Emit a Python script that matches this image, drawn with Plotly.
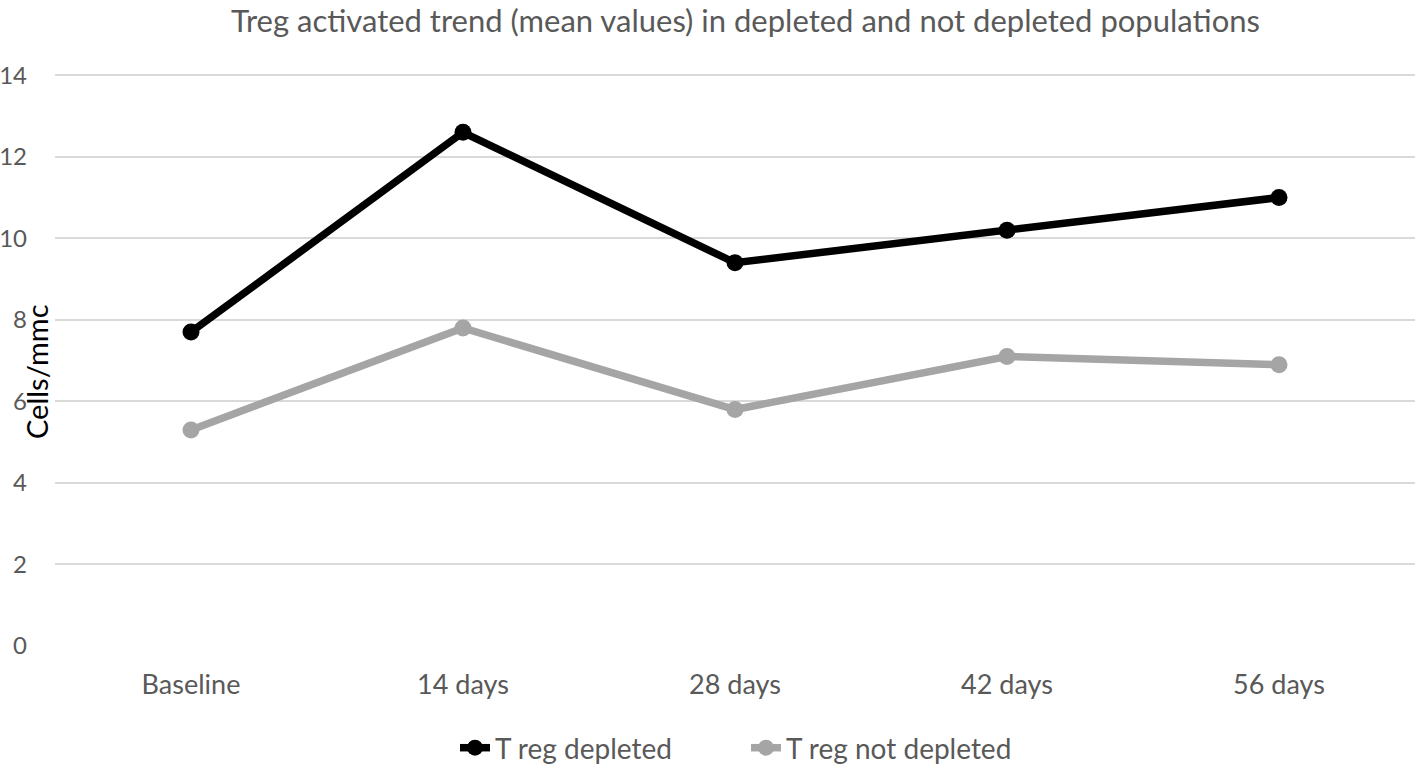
import plotly.graph_objects as go

categories = ["Baseline", "14 days", "28 days", "42 days", "56 days"]
depleted = [7.7, 12.6, 9.4, 10.2, 11.0]
not_depleted = [5.3, 7.8, 5.8, 7.1, 6.9]
y_ticks = [0, 2, 4, 6, 8, 10, 12, 14]

FONT = "Lato, Calibri, Carlito, sans-serif"

W, H = 1415, 764
L, R = 55, 0
T = 74
PLOT_H = 646 - 74
B = H - T - PLOT_H
PLOT_W = W - L - R


def px(xpage):
    return (xpage - L) / PLOT_W


def py(ypage):
    return (646 - ypage) / PLOT_H


fig = go.Figure()
fig.add_trace(go.Scatter(
    x=categories, y=depleted, name="T reg depleted", mode="lines+markers",
    line=dict(color="#000000", width=7.5), marker=dict(size=17, color="#000000"),
))
fig.add_trace(go.Scatter(
    x=categories, y=not_depleted, name="T reg not depleted", mode="lines+markers",
    line=dict(color="#a5a5a5", width=7.5), marker=dict(size=17, color="#a5a5a5"),
))

fig.update_layout(
    width=W, height=H, autosize=False,
    margin=dict(l=L, r=R, t=T, b=B, autoexpand=False),
    paper_bgcolor="white", plot_bgcolor="white",
    font=dict(family=FONT, size=20, color="#595959"),
    showlegend=True,
    legend=dict(orientation="h", x=px(455), xanchor="left",
                y=py(748), yanchor="middle", entrywidth=246, entrywidthmode="pixels",
                font=dict(size=28, color="#595959"), tracegroupgap=0),
    xaxis=dict(type="category", range=[-0.5, 4.5], showgrid=False, showline=False,
               zeroline=False, ticks="", tickfont=dict(size=27, color="#595959"),
               ticklabelstandoff=20, fixedrange=True),
    yaxis=dict(range=[0, 14.03], tickvals=y_ticks, showgrid=True, gridcolor="#d9d9d9",
               gridwidth=2, zeroline=False, showline=False, ticks="",
               tickfont=dict(size=24, color="#595959"), ticklabelstandoff=27),
    annotations=[
        dict(text="Treg activated trend (mean values) in depleted and not depleted populations",
             xref="paper", yref="paper", x=px(745), y=py(20),
             xanchor="center", yanchor="middle", showarrow=False,
             font=dict(size=31, color="#595959", family=FONT)),
        dict(text="Cells/mmc", xref="paper", yref="paper", x=px(36),
             y=py(372), textangle=-90, xanchor="center", yanchor="middle",
             showarrow=False, font=dict(size=29, color="#000000", family=FONT)),
    ],
)

fig.write_html("out.html", config={"displayModeBar": False},
               post_script="document.body.style.margin='0px';")
